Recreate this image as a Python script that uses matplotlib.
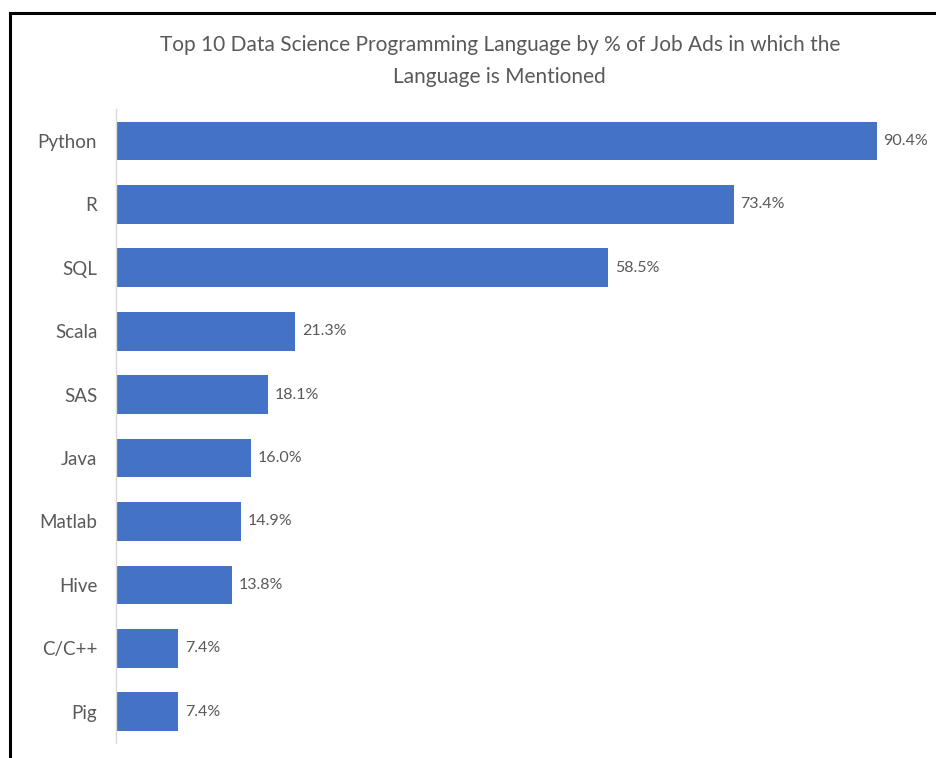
import matplotlib
matplotlib.use("Agg")
import matplotlib.pyplot as plt
from matplotlib.lines import Line2D

languages = ["Python", "R", "SQL", "Scala", "SAS", "Java", "Matlab", "Hive", "C/C++", "Pig"]
share_pct = [90.4, 73.4, 58.5, 21.3, 18.1, 16.0, 14.9, 13.8, 7.4, 7.4]

title = ("Top 10 Data Science Programming Language by % of Job Ads in which the\n"
         "Language is Mentioned")

bar_color = "#4472C4"
text_color = "#595959"

plt.rcParams["font.family"] = ["Lato", "DejaVu Sans"]

fig = plt.figure(figsize=(9.36, 7.58), dpi=100)
ax = fig.add_axes([0.1239, 0.0193, 0.863, 0.8365])

pos = range(len(languages))
ax.barh(pos, share_pct, height=0.61, color=bar_color)

for y, v in zip(pos, share_pct):
    ax.text(v + 0.8, y, f"{v:.1f}%", va="center", ha="left",
            fontsize=11.5, color=text_color)

ax.set_yticks(list(pos))
ax.set_yticklabels(languages, fontsize=13.5, color=text_color)
ax.tick_params(axis="y", length=0, pad=13.5)
ax.set_xticks([])
ax.set_xlim(0, 96)
ax.set_ylim(9.5, -0.5)

for side in ["top", "right", "bottom"]:
    ax.spines[side].set_visible(False)
ax.spines["left"].set_color("#D9D9D9")
ax.spines["left"].set_linewidth(1)

fig.text(0.534, 0.9195, title, ha="center", va="center", fontsize=15,
         color=text_color, linespacing=1.75)

# black frame along the top and left edges
fig.add_artist(Line2D([10 / 936, 1], [1 - 13 / 758, 1 - 13 / 758],
                      color="black", linewidth=2.2, transform=fig.transFigure))
fig.add_artist(Line2D([10 / 936, 10 / 936], [0, 1 - 13 / 758],
                      color="black", linewidth=2.2, transform=fig.transFigure))

fig.savefig("out.png", dpi=100)
